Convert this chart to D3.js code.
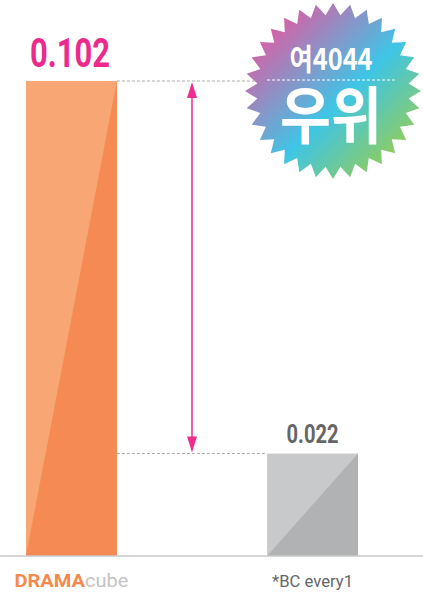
<!DOCTYPE html>
<html>
<head>
<meta charset="utf-8">
<script src="https://cdn.jsdelivr.net/npm/d3@7"></script>
<style>
  body { margin: 0; background: #fff; }
  svg { display: block; }
</style>
</head>
<body>
<div id="chart"></div>
<script>
// data
const categories = ["DRAMAcube", "*BC every1"];
const values = [0.102, 0.022];
const valueLabels = ["0.102", "0.022"];
const badgeTop = "여4044";
const badgeBottom = "우위";

const W = 423, H = 594;
const baseY = 556, topY = 81;

const svg = d3.select("#chart").append("svg")
  .attr("width", W).attr("height", H);

const x = d3.scaleBand()
  .domain(categories)
  .range([26, 358])
  .paddingInner(0.623)
  .paddingOuter(0);

const y = d3.scaleLinear()
  .domain([0, values[0]])
  .range([baseY, topY]);

const light = ["#f7a674", "#c8c9cb"];
const dark = ["#f58a54", "#b1b2b4"];

// bars: light rect + dark lower-right triangle
categories.forEach((c, i) => {
  const x0 = x(c), x1 = x(c) + x.bandwidth(), yt = y(values[i]);
  svg.append("rect")
    .attr("x", x0).attr("y", yt)
    .attr("width", x.bandwidth()).attr("height", baseY - yt)
    .attr("fill", light[i]);
  svg.append("path")
    .attr("d", `M${x1},${yt}L${x1},${baseY}L${x0},${baseY}Z`)
    .attr("fill", dark[i]);
});

// dashed guide lines
const xa = x(categories[0]) + x.bandwidth();
svg.append("line")
  .attr("x1", xa).attr("x2", 400)
  .attr("y1", y(values[0])).attr("y2", y(values[0]))
  .attr("stroke", "#aaa").attr("stroke-dasharray", "3,2");
svg.append("line")
  .attr("x1", xa).attr("x2", x(categories[1]))
  .attr("y1", y(values[1])).attr("y2", y(values[1]))
  .attr("stroke", "#aaa").attr("stroke-dasharray", "3,2");

// baseline
svg.append("line")
  .attr("x1", 0).attr("x2", W)
  .attr("y1", baseY).attr("y2", baseY)
  .attr("stroke", "#c8c8c8").attr("stroke-width", 1.5);

// double arrow
const ax = 192, pink = "#ee2e8f";
const ya = y(values[0]), yb = y(values[1]);
svg.append("line")
  .attr("x1", ax).attr("x2", ax)
  .attr("y1", ya + 10).attr("y2", yb - 10)
  .attr("stroke", pink).attr("stroke-width", 1.5);
svg.append("path")
  .attr("d", `M${ax},${ya + 1}L${ax - 5},${ya + 17}L${ax + 5},${ya + 17}Z`)
  .attr("fill", pink);
svg.append("path")
  .attr("d", `M${ax},${yb - 1}L${ax - 5},${yb - 17}L${ax + 5},${yb - 17}Z`)
  .attr("fill", pink);

// value labels
svg.append("text")
  .attr("x", x(categories[0]) + 4).attr("y", 67)
  .attr("font-family", "Roboto").attr("font-weight", "bold")
  .attr("font-size", 40).attr("fill", "#ec2a8c")
  .attr("textLength", 80).attr("lengthAdjust", "spacingAndGlyphs")
  .text(valueLabels[0]);
svg.append("text")
  .attr("x", x(categories[1]) + x.bandwidth() / 2).attr("y", 443)
  .attr("text-anchor", "middle")
  .attr("font-family", "Roboto").attr("font-weight", "bold")
  .attr("font-size", 25).attr("fill", "#666")
  .attr("textLength", 52).attr("lengthAdjust", "spacingAndGlyphs")
  .text(valueLabels[1]);

// category labels
const cat0 = svg.append("text")
  .attr("x", x(categories[0]) + x.bandwidth() / 2).attr("y", 587)
  .attr("text-anchor", "middle")
  .attr("font-family", "Roboto").attr("font-size", 19)
  .attr("textLength", 114).attr("lengthAdjust", "spacingAndGlyphs");
cat0.append("tspan").attr("font-weight", "bold").attr("fill", "#f58a4c").text("DRAMA");
cat0.append("tspan").attr("fill", "#c4c4c4").text("cube");

svg.append("text")
  .attr("x", x(categories[1]) + x.bandwidth() / 2).attr("y", 587)
  .attr("text-anchor", "middle")
  .attr("font-family", "Roboto").attr("font-size", 17).attr("fill", "#666")
  .attr("textLength", 81).attr("lengthAdjust", "spacingAndGlyphs")
  .text(categories[1]);

// badge
const defs = svg.append("defs");
const grad = defs.append("linearGradient").attr("id", "bg")
  .attr("x1", "0%").attr("y1", "0%").attr("x2", "100%").attr("y2", "100%");
grad.append("stop").attr("offset", "10%").attr("stop-color", "#e8559f");
grad.append("stop").attr("offset", "55%").attr("stop-color", "#3ec5e6");
grad.append("stop").attr("offset", "95%").attr("stop-color", "#a6ce39");

const cx = 333, cy = 91, rOut = 88, rIn = 76, n = 32;
const pts = d3.range(n * 2).map(k => {
  const a = k * Math.PI / n - Math.PI / 2;
  const r = k % 2 ? rIn : rOut;
  return [cx + r * Math.cos(a), cy + r * Math.sin(a)];
});
svg.append("path")
  .attr("d", d3.line()(pts) + "Z")
  .attr("fill", "url(#bg)");

svg.append("line")
  .attr("x1", 267).attr("x2", 397)
  .attr("y1", 80).attr("y2", 80)
  .attr("stroke", "#fff").attr("stroke-dasharray", "3,2");

svg.append("text")
  .attr("x", 331).attr("y", 70).attr("text-anchor", "middle")
  .attr("font-family", "Noto Sans CJK KR").attr("font-weight", "bold")
  .attr("font-size", 30).attr("fill", "#fff")
  .attr("textLength", 83).attr("lengthAdjust", "spacingAndGlyphs")
  .text(badgeTop);
svg.append("text")
  .attr("x", 331).attr("y", 139).attr("text-anchor", "middle")
  .attr("font-family", "Noto Sans CJK KR").attr("font-weight", "bold")
  .attr("font-size", 62).attr("fill", "#fff")
  .attr("textLength", 102).attr("lengthAdjust", "spacingAndGlyphs")
  .text(badgeBottom);
</script>
</body>
</html>
